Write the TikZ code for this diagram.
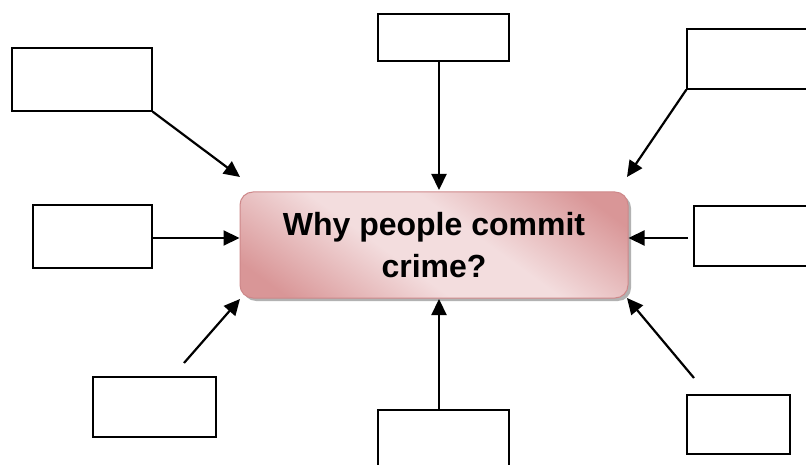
\documentclass[tikz,border=0pt]{standalone}
\usepackage{fontspec}
\setmainfont{Liberation Sans}
\usetikzlibrary{arrows.meta,calc}
\definecolor{pinkdark}{RGB}{217,150,151}
\definecolor{pinklight}{RGB}{243,221,222}
\definecolor{pinkline}{RGB}{206,136,138}
\pgfdeclarehorizontalshading{crimeshade}{100bp}{color(0bp)=(pinkdark); color(34bp)=(pinkdark); color(46bp)=(pinklight); color(54bp)=(pinklight); color(66bp)=(pinkdark); color(100bp)=(pinkdark)}
\begin{document}
\begin{tikzpicture}[x=1pt,y=-1pt,
  blank/.style={draw=black,line width=1.3pt,fill=white,inner sep=0pt},
  conn/.style={line width=2.2pt,-{Triangle[length=16pt,width=15pt]}},
  centre/.style={rounded corners=13pt,draw=pinkline,line width=1pt,
    minimum width=388pt,minimum height=106pt,align=center,inner sep=0pt,
    font=\fontsize{32}{42}\selectfont\bfseries}]
\useasboundingbox (0,0) rectangle (806,465);
\fill[white] (0,0) rectangle (806,465);
% shadow of the central node
\fill[rounded corners=13pt,black!30] (243,195) rectangle (631,301);
% shaded body of the central node
\begin{scope}
  \clip[rounded corners=13pt] (240,192) rectangle (628,298);
  \shade[shading=crimeshade,shading angle=54] (234,45) rectangle (634,445);
\end{scope}
% central node
\node[centre] (c) at (434,245) {Why people commit\\crime?};
% blank boxes
\node[blank,minimum width=140pt,minimum height=63pt] (tl) at (82,79.5) {};
\node[blank,minimum width=119pt,minimum height=63pt] (ml) at (92.5,236.5) {};
\node[blank,minimum width=131pt,minimum height=47pt] (tp) at (443.5,37.5) {};
\node[blank,minimum width=140pt,minimum height=60pt] (tr) at (757,59) {};
\node[blank,minimum width=140pt,minimum height=60pt] (mr) at (764,236) {};
\node[blank,minimum width=123pt,minimum height=60pt] (bl) at (154.5,407) {};
\node[blank,minimum width=103pt,minimum height=59pt] (br) at (738.5,424.5) {};
\node[blank,minimum width=131pt,minimum height=62pt] (bt) at (443.5,441) {};
% connector ends
\coordinate (tlE) at (240,177);
\coordinate (trE) at (627,177);
\coordinate (blE) at (240,299);
\coordinate (brE) at (627,298);
\coordinate (tpS) at (439,61);
\coordinate (tpE) at (439,190);
\coordinate (btS) at (439,410);
\coordinate (btE) at (439,299);
\coordinate (mrS) at (688,238);
\coordinate (mlS) at (152,238);
\coordinate (blS) at (184,363);
\coordinate (brS) at (694,378);
% connectors
\draw[conn] (tl.south east) -- (tlE);
\draw[conn] (tr.south west) -- (trE);
\draw[conn] (mlS) -- (c.west |- mlS);
\draw[conn] (mrS) -- (c.east |- mrS);
\draw[conn] (tpS) -- (tpE);
\draw[conn] (btS) -- (btE);
\draw[conn] (blS) -- (blE);
\draw[conn] (brS) -- (brE);
\end{tikzpicture}
\end{document}
